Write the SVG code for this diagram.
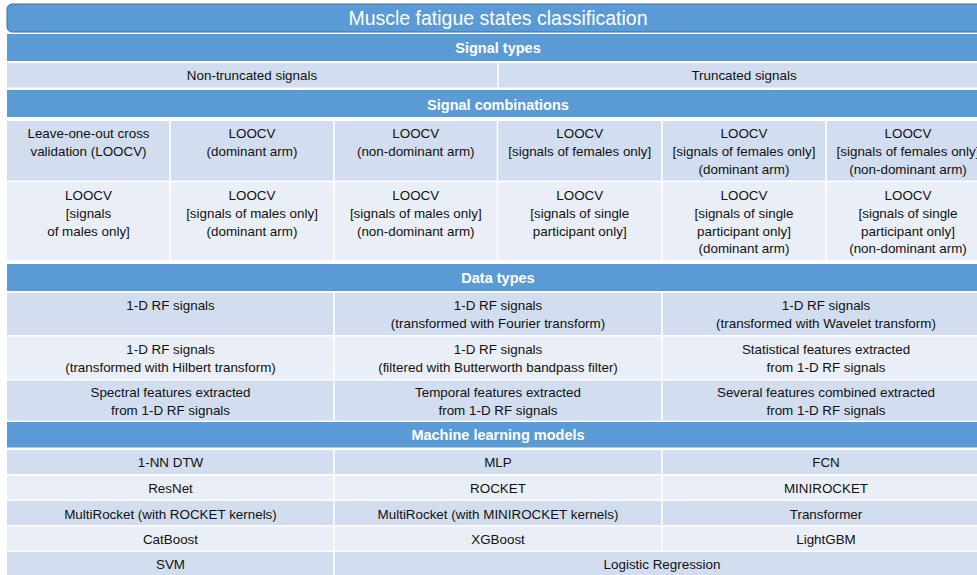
<svg xmlns="http://www.w3.org/2000/svg" width="977" height="575" viewBox="0 0 977 575">
  <style>
    .title { fill: #5B9BD5; stroke: #41719C; stroke-width: 1; }
    .hdr { fill: #5B9BD5; }
    .dark { fill: #D2DEEF; }
    .light { fill: #EAEFF7; }
    text { font-family: "Liberation Sans", Arial, sans-serif; text-anchor: middle; }
    .tt { fill: #ffffff; font-size: 19.5px; }
    .ht { fill: #ffffff; font-size: 14.5px; font-weight: bold; }
    .ct { fill: #111111; font-size: 13.4px; }
  </style>
  <rect width="977" height="575" fill="#ffffff"/>

  <!-- Title bar -->
  <g id="title">
    <rect class="title" x="7" y="4" width="985" height="28" rx="5"/>
    <text class="tt" x="498" y="25">Muscle fatigue states classification</text>
  </g>

  <!-- Signal types -->
  <g id="signal-types-header">
    <rect class="hdr" x="7" y="34" width="983" height="27"/>
    <text class="ht" x="498" y="53">Signal types</text>
  </g>
  <g id="non-truncated">
    <rect class="dark" x="7" y="63" width="490.25" height="24.5"/>
    <text class="ct" x="252" y="80">Non-truncated signals</text>
  </g>
  <g id="truncated">
    <rect class="dark" x="498.75" y="63" width="491.25" height="24.5"/>
    <text class="ct" x="744" y="80">Truncated signals</text>
  </g>

  <!-- Signal combinations -->
  <g id="signal-combinations-header">
    <rect class="hdr" x="7" y="90" width="983" height="27"/>
    <text class="ht" x="498" y="109.5">Signal combinations</text>
  </g>

  <g id="combo-loocv">
    <rect class="dark" x="7" y="121" width="162.25" height="59.5"/>
    <text class="ct" x="88.5" y="137.5">Leave-one-out cross</text>
    <text class="ct" x="88.5" y="155.5">validation (LOOCV)</text>
  </g>
  <g id="combo-dominant">
    <rect class="dark" x="170.75" y="121" width="162.5" height="59.5"/>
    <text class="ct" x="252" y="137.5">LOOCV</text>
    <text class="ct" x="252" y="155.5">(dominant arm)</text>
  </g>
  <g id="combo-non-dominant">
    <rect class="dark" x="334.75" y="121" width="162" height="59.5"/>
    <text class="ct" x="415.75" y="137.5">LOOCV</text>
    <text class="ct" x="415.75" y="155.5">(non-dominant arm)</text>
  </g>
  <g id="combo-females">
    <rect class="dark" x="498.25" y="121" width="163" height="59.5"/>
    <text class="ct" x="579.75" y="137.5">LOOCV</text>
    <text class="ct" x="579.75" y="155.5">[signals of females only]</text>
  </g>
  <g id="combo-females-dominant">
    <rect class="dark" x="662.75" y="121" width="162.5" height="59.5"/>
    <text class="ct" x="744" y="137.5">LOOCV</text>
    <text class="ct" x="744" y="155.5">[signals of females only]</text>
    <text class="ct" x="744" y="173.5">(dominant arm)</text>
  </g>
  <g id="combo-females-non-dominant">
    <rect class="dark" x="826.75" y="121" width="163.25" height="59.5"/>
    <text class="ct" x="908" y="137.5">LOOCV</text>
    <text class="ct" x="908" y="155.5">[signals of females only]</text>
    <text class="ct" x="908" y="173.5">(non-dominant arm)</text>
  </g>

  <g id="combo-males">
    <rect class="light" x="7" y="182" width="162.25" height="78.5"/>
    <text class="ct" x="88.5" y="199.5">LOOCV</text>
    <text class="ct" x="88.5" y="217.5">[signals</text>
    <text class="ct" x="88.5" y="235.5">of males only]</text>
  </g>
  <g id="combo-males-dominant">
    <rect class="light" x="170.75" y="182" width="162.5" height="78.5"/>
    <text class="ct" x="252" y="199.5">LOOCV</text>
    <text class="ct" x="252" y="217.5">[signals of males only]</text>
    <text class="ct" x="252" y="235.5">(dominant arm)</text>
  </g>
  <g id="combo-males-non-dominant">
    <rect class="light" x="334.75" y="182" width="162" height="78.5"/>
    <text class="ct" x="415.75" y="199.5">LOOCV</text>
    <text class="ct" x="415.75" y="217.5">[signals of males only]</text>
    <text class="ct" x="415.75" y="235.5">(non-dominant arm)</text>
  </g>
  <g id="combo-single">
    <rect class="light" x="498.25" y="182" width="163" height="78.5"/>
    <text class="ct" x="579.75" y="199.5">LOOCV</text>
    <text class="ct" x="579.75" y="217.5">[signals of single</text>
    <text class="ct" x="579.75" y="235.5">participant only]</text>
  </g>
  <g id="combo-single-dominant">
    <rect class="light" x="662.75" y="182" width="162.5" height="78.5"/>
    <text class="ct" x="744" y="199.5">LOOCV</text>
    <text class="ct" x="744" y="217.5">[signals of single</text>
    <text class="ct" x="744" y="235.5">participant only]</text>
    <text class="ct" x="744" y="253">(dominant arm)</text>
  </g>
  <g id="combo-single-non-dominant">
    <rect class="light" x="826.75" y="182" width="163.25" height="78.5"/>
    <text class="ct" x="908" y="199.5">LOOCV</text>
    <text class="ct" x="908" y="217.5">[signals of single</text>
    <text class="ct" x="908" y="235.5">participant only]</text>
    <text class="ct" x="908" y="253">(non-dominant arm)</text>
  </g>

  <!-- Data types -->
  <g id="data-types-header">
    <rect class="hdr" x="7" y="264" width="983" height="27"/>
    <text class="ht" x="498" y="283">Data types</text>
  </g>

  <g id="data-raw">
    <rect class="dark" x="7" y="293" width="326.25" height="42"/>
    <text class="ct" x="170.5" y="310">1-D RF signals</text>
  </g>
  <g id="data-fourier">
    <rect class="dark" x="334.75" y="293" width="326.5" height="42"/>
    <text class="ct" x="498" y="310">1-D RF signals</text>
    <text class="ct" x="498" y="328">(transformed with Fourier transform)</text>
  </g>
  <g id="data-wavelet">
    <rect class="dark" x="662.75" y="293" width="327.25" height="42"/>
    <text class="ct" x="826" y="310">1-D RF signals</text>
    <text class="ct" x="826" y="328">(transformed with Wavelet transform)</text>
  </g>

  <g id="data-hilbert">
    <rect class="light" x="7" y="336.5" width="326.25" height="42.5"/>
    <text class="ct" x="170.5" y="353.5">1-D RF signals</text>
    <text class="ct" x="170.5" y="371.5">(transformed with Hilbert transform)</text>
  </g>
  <g id="data-butterworth">
    <rect class="light" x="334.75" y="336.5" width="326.5" height="42.5"/>
    <text class="ct" x="498" y="353.5">1-D RF signals</text>
    <text class="ct" x="498" y="371.5">(filtered with Butterworth bandpass filter)</text>
  </g>
  <g id="data-statistical">
    <rect class="light" x="662.75" y="336.5" width="327.25" height="42.5"/>
    <text class="ct" x="826" y="353.5">Statistical features extracted</text>
    <text class="ct" x="826" y="371.5">from 1-D RF signals</text>
  </g>

  <g id="data-spectral">
    <rect class="dark" x="7" y="380.5" width="326.25" height="40"/>
    <text class="ct" x="170.5" y="397">Spectral features extracted</text>
    <text class="ct" x="170.5" y="415">from 1-D RF signals</text>
  </g>
  <g id="data-temporal">
    <rect class="dark" x="334.75" y="380.5" width="326.5" height="40"/>
    <text class="ct" x="498" y="397">Temporal features extracted</text>
    <text class="ct" x="498" y="415">from 1-D RF signals</text>
  </g>
  <g id="data-combined">
    <rect class="dark" x="662.75" y="380.5" width="327.25" height="40"/>
    <text class="ct" x="826" y="397">Several features combined extracted</text>
    <text class="ct" x="826" y="415">from 1-D RF signals</text>
  </g>

  <!-- Machine learning models -->
  <g id="models-header">
    <rect class="hdr" x="7" y="422" width="983" height="25.5"/>
    <text class="ht" x="498" y="440">Machine learning models</text>
  </g>

  <g id="model-1nn-dtw">
    <rect class="dark" x="7" y="450" width="326.25" height="24"/>
    <text class="ct" x="170.5" y="467">1-NN DTW</text>
  </g>
  <g id="model-mlp">
    <rect class="dark" x="334.75" y="450" width="326.5" height="24"/>
    <text class="ct" x="498" y="467">MLP</text>
  </g>
  <g id="model-fcn">
    <rect class="dark" x="662.75" y="450" width="327.25" height="24"/>
    <text class="ct" x="826" y="467">FCN</text>
  </g>

  <g id="model-resnet">
    <rect class="light" x="7" y="475.5" width="326.25" height="24"/>
    <text class="ct" x="170.5" y="493">ResNet</text>
  </g>
  <g id="model-rocket">
    <rect class="light" x="334.75" y="475.5" width="326.5" height="24"/>
    <text class="ct" x="498" y="493">ROCKET</text>
  </g>
  <g id="model-minirocket">
    <rect class="light" x="662.75" y="475.5" width="327.25" height="24"/>
    <text class="ct" x="826" y="493">MINIROCKET</text>
  </g>

  <g id="model-multirocket-rocket">
    <rect class="dark" x="7" y="501" width="326.25" height="24"/>
    <text class="ct" x="170.5" y="518.5">MultiRocket (with ROCKET kernels)</text>
  </g>
  <g id="model-multirocket-minirocket">
    <rect class="dark" x="334.75" y="501" width="326.5" height="24"/>
    <text class="ct" x="498" y="518.5">MultiRocket (with MINIROCKET kernels)</text>
  </g>
  <g id="model-transformer">
    <rect class="dark" x="662.75" y="501" width="327.25" height="24"/>
    <text class="ct" x="826" y="518.5">Transformer</text>
  </g>

  <g id="model-catboost">
    <rect class="light" x="7" y="526.5" width="326.25" height="24"/>
    <text class="ct" x="170.5" y="543.5">CatBoost</text>
  </g>
  <g id="model-xgboost">
    <rect class="light" x="334.75" y="526.5" width="326.5" height="24"/>
    <text class="ct" x="498" y="543.5">XGBoost</text>
  </g>
  <g id="model-lightgbm">
    <rect class="light" x="662.75" y="526.5" width="327.25" height="24"/>
    <text class="ct" x="826" y="543.5">LightGBM</text>
  </g>

  <g id="model-svm">
    <rect class="dark" x="7" y="552" width="326.25" height="25"/>
    <text class="ct" x="170.5" y="569">SVM</text>
  </g>
  <g id="model-logistic-regression">
    <rect class="dark" x="334.75" y="552" width="655.25" height="25"/>
    <text class="ct" x="662" y="569">Logistic Regression</text>
  </g>

  <!-- no connectors in this layout -->
  <g id="connectors"/>
</svg>
